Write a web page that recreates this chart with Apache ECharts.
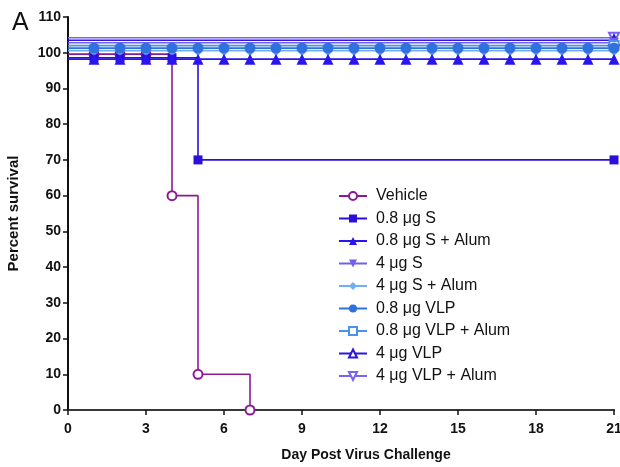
<!DOCTYPE html>
<html>
<head>
<meta charset="utf-8">
<script src="https://cdn.jsdelivr.net/npm/echarts@6/dist/echarts.min.js"></script>
<style>
  html, body { margin: 0; padding: 0; background: #fff; }
  #chart { width: 620px; height: 467px; }
</style>
</head>
<body>
<div id="chart"></div>
<script>
// days 0..21
const days = [0, 1, 2, 3, 4, 5, 6, 7, 8, 9, 10, 11, 12, 13, 14, 15, 16, 17, 18, 19, 20, 21]

// survival (%) per day, curves nudged slightly at 100% like the original plot
const vehicle = [99.6, 99.6, 99.6, 99.6, 60, 10, 10, 0]
const s08 = [98.6, 98.6, 98.6, 98.6, 98.6, 70, 70, 70, 70, 70, 70, 70, 70, 70, 70, 70, 70, 70, 70, 70, 70, 70]
const s08Alum = 98.2
const s4 = 102.8
const s4Alum = 100.6
const vlp08 = 101.3
const vlp08Alum = 102.0
const vlp4 = 103.5
const vlp4Alum = 104.2

// days that carry a marker
const allDays = [1, 2, 3, 4, 5, 6, 7, 8, 9, 10, 11, 12, 13, 14, 15, 16, 17, 18, 19, 20, 21]
const lastDay = [21]
const vehicleMarks = [1, 2, 3, 4, 5, 7]
const s08Marks = [1, 2, 3, 4, 5, 21]

const toData = (values, marks) => values.map((v, i) => {
  const item = { value: [days[i], v] }
  if (!marks.includes(days[i])) item.symbol = 'none'
  return item
})
const flat = (v, marks) => toData(days.map(() => v), marks)

const tri = 'triangle'
const invTri = 'path://M0,0 L10,0 L5,9 Z'

const seriesDefs = [
  { name: 'Vehicle', data: toData(vehicle, vehicleMarks), color: '#8b1a94', symbol: 'circle', empty: true, size: 9 },
  { name: '0.8 μg S', data: toData(s08, s08Marks), color: '#2a0fd8', symbol: 'rect', size: 9 },
  { name: '0.8 μg S + Alum', data: flat(s08Alum, allDays), color: '#2a14f0', symbol: tri, size: 11 },
  { name: '4 μg S', data: flat(s4, lastDay), color: '#6f5ef0', symbol: invTri, size: 10 },
  { name: '4 μg S + Alum', data: flat(s4Alum, allDays), color: '#6fb0f2', symbol: 'diamond', size: 11 },
  { name: '0.8 μg VLP', data: flat(vlp08, allDays), color: '#2f72de', symbol: 'circle', size: 11 },
  { name: '0.8 μg VLP + Alum', data: flat(vlp08Alum, lastDay), color: '#4b92ea', symbol: 'rect', empty: true, size: 9 },
  { name: '4 μg VLP', data: flat(vlp4, lastDay), color: '#2a16dc', symbol: tri, empty: true, size: 10 },
  { name: '4 μg VLP + Alum', data: flat(vlp4Alum, lastDay), color: '#7a62f2', symbol: invTri, empty: true, size: 10 }
]

// draw order: keep circles and filled triangles on top like the reference
const drawOrder = ['4 μg VLP + Alum', '4 μg VLP', '4 μg S', '0.8 μg VLP + Alum', 'Vehicle', '0.8 μg S', '4 μg S + Alum', '0.8 μg VLP', '0.8 μg S + Alum']

const myChart = echarts.init(document.getElementById('chart'), null, { renderer: 'canvas' })

const labelFont = {
  color: '#111',
  fontFamily: 'Liberation Sans, Arial, sans-serif',
  fontWeight: 'bold',
  fontSize: 14
}

const option = {
  animation: false,
  textStyle: { fontFamily: 'Liberation Sans, Arial, sans-serif' },
  title: {
    text: 'A',
    left: 7,
    top: 6,
    textStyle: { fontSize: 25, fontWeight: 'normal', color: '#111' }
  },
  legend: {
    orient: 'vertical',
    left: 333,
    top: 183,
    itemGap: 6.5,
    itemWidth: 28,
    itemHeight: 10,
    textStyle: { color: '#111', fontSize: 16, padding: [0, 0, 0, 4] },
    data: seriesDefs.map((s) => s.name)
  },
  grid: {
    left: 68,
    right: 6,
    top: 17,
    bottom: 57,
    outerBoundsMode: 'none'
  },
  xAxis: [
    {
      type: 'value',
      min: 0,
      max: 21,
      interval: 3,
      name: 'Day Post Virus Challenge',
      nameLocation: 'middle',
      nameGap: 38,
      nameTextStyle: { ...labelFont, padding: [0, 0, 0, 50] },
      axisLine: { show: true, onZero: false, lineStyle: { color: '#111', width: 2 } },
      axisTick: { show: true, length: 5, lineStyle: { color: '#111', width: 1.5 } },
      axisLabel: { ...labelFont, margin: 12 },
      splitLine: { show: false }
    },
    {
      type: 'value',
      position: 'top',
      min: 0,
      max: 21,
      axisLine: { show: true, lineStyle: { color: '#444', width: 1.5 } },
      axisTick: { show: false },
      axisLabel: { show: false },
      splitLine: { show: false }
    }
  ],
  yAxis: {
    type: 'value',
    min: 0,
    max: 110,
    interval: 10,
    name: 'Percent survival',
    nameLocation: 'middle',
    nameGap: 47,
    nameTextStyle: { ...labelFont, fontSize: 15 },
    axisLine: { show: true, lineStyle: { color: '#111', width: 2 } },
    axisTick: { show: true, length: 5, lineStyle: { color: '#111', width: 1.5 } },
    axisLabel: { ...labelFont, margin: 7 },
    splitLine: { show: false }
  },
  series: drawOrder.map((name) => {
    const s = seriesDefs.find((d) => d.name === name)
    return {
      name: s.name,
      type: 'line',
      step: 'end',
      data: s.data,
      symbol: s.symbol,
      symbolSize: s.size,
      showSymbol: true,
      lineStyle: { color: s.color, width: 1.6 },
      itemStyle: {
        color: s.empty ? '#fff' : s.color,
        borderColor: s.color,
        borderWidth: s.empty ? 2 : 0
      }
    }
  })
}

myChart.setOption(option)
</script>
</body>
</html>
